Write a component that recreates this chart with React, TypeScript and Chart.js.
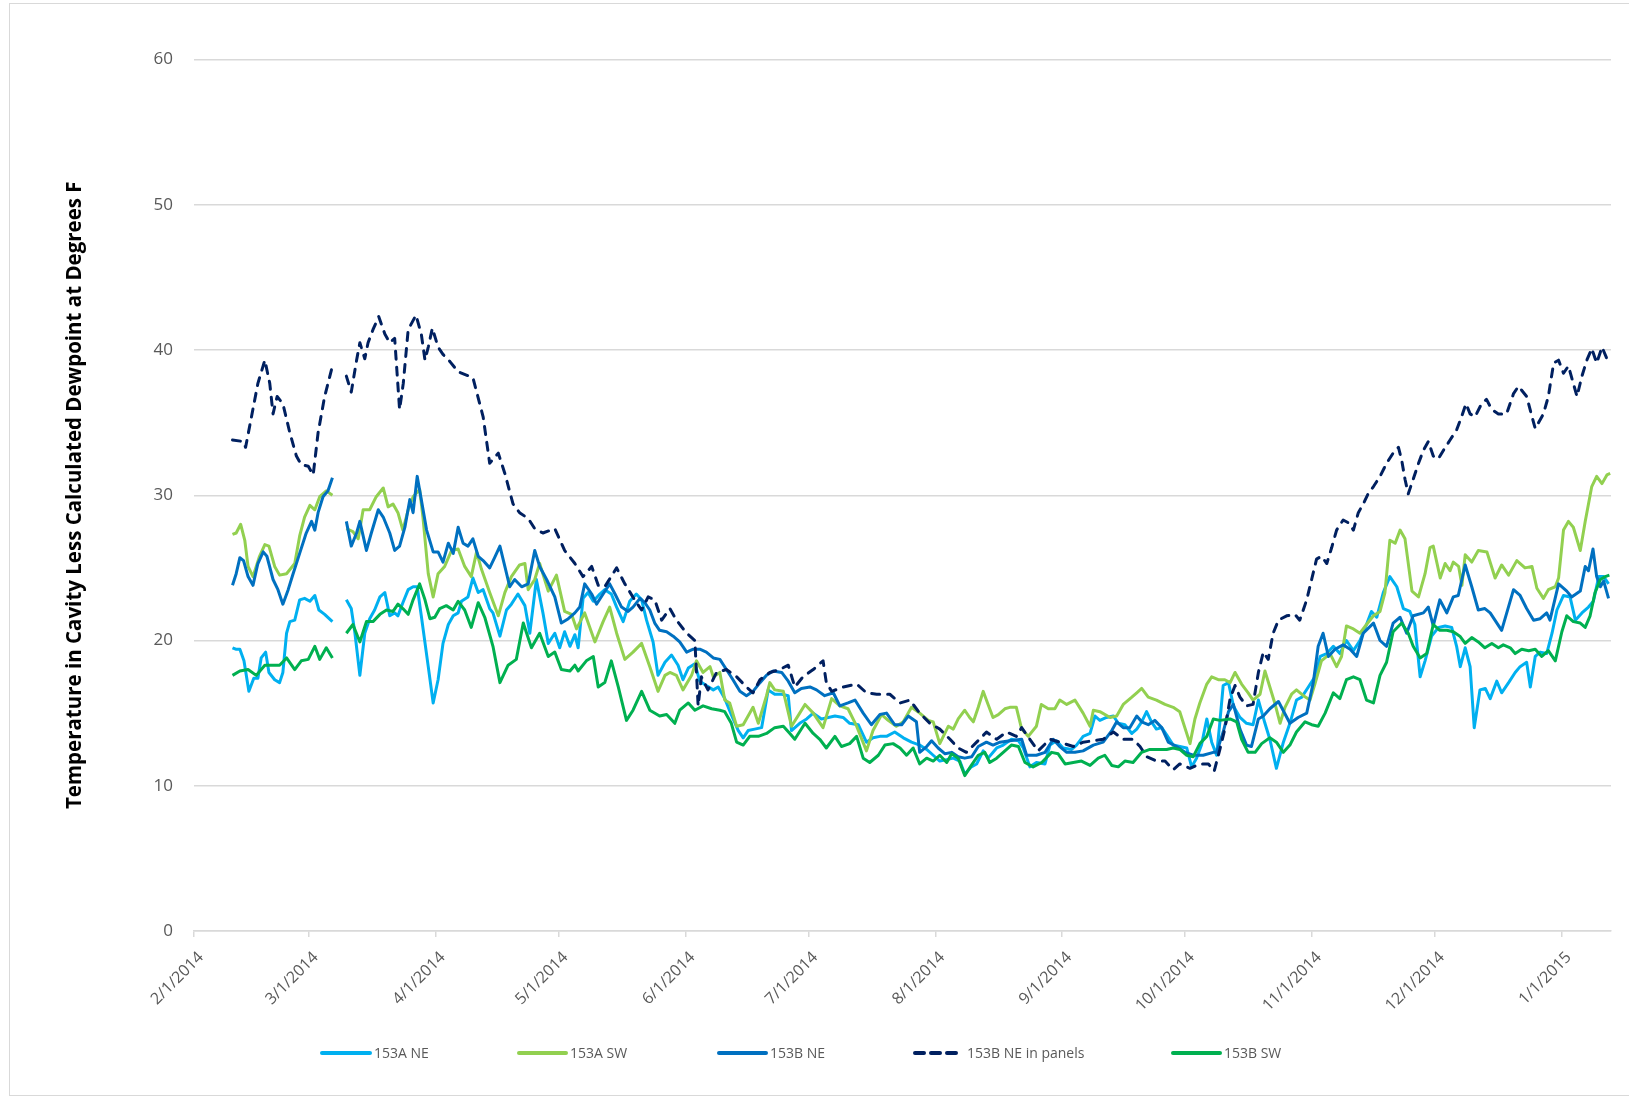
import React, { useEffect, useRef } from "react";
import { Chart, registerables } from "chart.js";

Chart.register(...registerables);

// x values are days since 2/1/2014
const MONTH_TICKS = [0, 28, 59, 89, 120, 150, 181, 212, 242, 273, 303, 334];
const MONTH_LABELS = ["2/1/2014", "3/1/2014", "4/1/2014", "5/1/2014", "6/1/2014", "7/1/2014", "8/1/2014", "9/1/2014", "10/1/2014", "11/1/2014", "12/1/2014", "1/1/2015"];
const X_MAX = 346;
const Y_TICKS = [0, 10, 20, 30, 40, 50, 60];

const SERIES_NAMES = ["153A NE", "153A SW", "153B NE", "153B NE in panels", "153B SW"];
const SERIES_COLORS = ["#00B0F0", "#92D050", "#0070C0", "#002060", "#00B050"];

type P = [number, number | null];

const A_NE: P[] = [[9.4,19.5],[10.2,19.4],[11.2,19.4],[12.2,18.6],[13.4,16.5],[14.6,17.4],[15.6,17.4],[16.4,18.8],[17.5,19.2],[18.3,17.8],[19.7,17.3],[20.9,17.1],[21.7,17.8],[22.6,20.5],[23.4,21.3],[24.6,21.4],[25.8,22.8],[27.0,22.9],[28.3,22.7],[29.5,23.1],[30.5,22.1],[31.9,21.8],[33.8,21.3],[35.5,null],[37.2,22.8],[38.4,22.2],[39.3,20.5],[40.5,17.6],[41.7,20.5],[42.9,21.5],[44.1,22.1],[45.4,23.0],[46.6,23.3],[47.8,21.7],[49.0,21.9],[49.8,21.7],[51.0,22.6],[52.3,23.5],[53.5,23.7],[54.5,23.7],[55.5,21.7],[57.2,18.2],[58.4,15.7],[59.6,17.3],[60.8,19.8],[62.1,21.1],[63.3,21.7],[64.5,21.9],[65.3,22.7],[66.9,23.0],[68.1,24.3],[69.4,23.3],[70.6,23.5],[72.2,22.2],[73.0,21.9],[74.7,20.3],[76.3,22.1],[77.5,22.5],[79.1,23.2],[80.8,22.4],[82.0,20.5],[83.6,24.2],[85.2,21.9],[86.5,19.8],[88.1,20.5],[89.3,19.5],[90.5,20.6],[91.8,19.6],[93.0,20.4],[93.8,19.5],[95.0,22.9],[96.2,23.3],[97.5,22.7],[99.1,23.2],[100.3,23.5],[101.9,23.2],[103.2,22.3],[104.8,21.3],[106.4,22.7],[108.0,23.2],[109.3,22.8],[110.5,21.4],[112.1,19.9],[113.3,17.6],[115.0,18.5],[116.6,19.0],[118.2,18.3],[119.4,17.3],[120.7,18.1],[122.3,18.4],[123.5,17.2],[125.1,16.9],[126.8,16.6],[128.0,16.8],[129.6,16.0],[131.2,14.9],[132.9,13.8],[134.1,13.3],[135.3,13.8],[136.9,13.9],[138.6,14.0],[140.2,16.6],[141.8,16.3],[143.5,16.3],[145.1,16.2],[145.9,13.8],[147.9,14.3],[149.6,14.6],[151.2,15.0],[153.2,14.6],[154.9,14.7],[156.5,14.8],[158.5,14.7],[160.1,14.3],[162.2,14.2],[164.2,13.0],[165.8,13.3],[167.5,13.4],[169.1,13.4],[171.1,13.7],[173.2,13.3],[175.2,13.0],[177.2,12.8],[178.9,12.5],[180.5,12.1],[182.1,11.7],[183.8,11.8],[185.4,11.9],[187.0,11.7],[188.2,10.8],[189.8,11.3],[191.1,11.5],[192.7,12.4],[193.9,11.9],[196.0,12.6],[197.6,12.8],[199.6,13.2],[201.3,13.1],[202.5,12.6],[204.1,11.3],[205.7,11.6],[207.8,11.5],[209.0,12.8],[210.6,13.1],[212.2,12.6],[214.3,12.5],[215.5,12.8],[217.1,13.4],[218.8,13.6],[220.0,14.8],[221.2,14.5],[222.8,14.7],[224.5,14.8],[225.7,14.3],[227.3,14.2],[229.0,13.6],[230.2,13.9],[231.4,14.4],[232.6,15.1],[233.8,14.4],[235.0,13.9],[236.3,14.0],[237.5,13.5],[239.1,12.8],[240.7,12.7],[242.4,12.6],[243.6,11.3],[244.8,11.9],[246.0,12.8],[247.3,14.6],[248.5,13.0],[249.7,12.1],[250.5,14.4],[251.3,16.9],[252.6,17.1],[253.8,15.5],[255.4,14.7],[257.0,14.3],[258.6,14.2],[259.9,15.9],[261.5,14.3],[262.7,13.2],[264.3,11.2],[266.0,13.0],[267.6,14.3],[269.2,15.9],[270.5,16.1],[272.1,16.8],[273.7,17.5],[275.0,18.9],[276.6,19.1],[278.2,19.6],[279.8,19.1],[281.4,20.0],[283.1,19.3],[284.7,20.0],[286.3,21.1],[287.5,22.0],[288.8,21.6],[290.4,23.3],[292.0,24.4],[293.7,23.7],[295.3,22.2],[296.9,22.0],[298.1,21.1],[299.4,17.5],[300.6,18.6],[302.2,20.3],[303.9,20.9],[305.5,21.0],[307.1,20.9],[308.3,19.6],[309.2,18.2],[310.4,19.5],[311.6,18.2],[312.6,14.0],[314.0,16.6],[315.3,16.7],[316.5,16.0],[318.1,17.2],[319.3,16.4],[321.0,17.1],[322.6,17.8],[323.8,18.2],[325.4,18.5],[326.3,16.8],[327.5,18.9],[328.7,19.2],[330.3,19.1],[331.6,20.5],[332.8,22.1],[334.4,23.1],[336.0,23.0],[337.3,21.4],[338.9,21.9],[340.5,22.3],[341.7,22.7],[343.0,24.4],[344.2,24.4],[345.4,23.9]];

const A_SW: P[] = [[9.4,27.3],[10.3,27.4],[11.4,28.0],[12.4,26.9],[13.2,25.1],[14.4,24.4],[16.0,25.8],[17.3,26.6],[18.3,26.5],[19.7,25.1],[20.9,24.5],[22.6,24.6],[24.6,25.3],[25.8,27.2],[27.0,28.5],[28.3,29.3],[29.5,29.0],[30.7,29.9],[32.3,30.3],[33.8,30.0],[35.5,null],[37.2,27.7],[38.8,27.5],[40.1,27.0],[41.3,29.0],[42.9,29.0],[44.5,29.9],[46.2,30.5],[47.4,29.2],[48.6,29.4],[49.8,28.8],[51.0,27.6],[52.3,29.0],[53.5,29.9],[55.1,30.4],[55.9,28.5],[57.2,24.6],[58.4,23.0],[59.6,24.6],[61.2,25.1],[62.9,26.2],[64.5,26.3],[66.1,25.1],[67.7,24.4],[69.0,26.1],[70.2,24.9],[72.2,23.3],[74.3,21.7],[75.9,23.3],[77.5,24.4],[79.5,25.2],[80.8,25.3],[81.6,23.5],[83.2,24.2],[84.4,25.3],[86.5,23.4],[88.5,24.5],[90.5,22.0],[92.2,21.8],[93.4,20.8],[95.4,21.9],[97.9,19.9],[99.9,21.3],[101.5,22.3],[103.2,20.5],[105.2,18.7],[107.2,19.2],[109.3,19.8],[111.3,18.2],[113.3,16.5],[115.0,17.6],[116.2,17.8],[117.8,17.6],[119.4,16.6],[121.5,17.6],[122.7,18.6],[124.3,17.8],[126.0,18.2],[126.8,17.5],[128.4,17.8],[129.6,15.9],[130.8,15.7],[132.5,14.1],[134.1,14.2],[136.5,15.4],[137.8,14.3],[139.8,16.2],[140.6,17.1],[141.8,16.6],[143.9,16.5],[145.9,14.1],[147.9,15.0],[149.2,15.6],[151.2,15.0],[153.6,14.0],[155.7,16.0],[157.7,15.5],[159.7,15.3],[161.8,14.1],[164.2,12.4],[165.8,13.8],[167.9,14.9],[169.5,14.5],[171.5,14.1],[173.2,14.4],[175.2,15.4],[177.2,15.0],[179.3,14.5],[180.5,14.4],[182.1,12.9],[184.2,14.1],[185.4,13.9],[186.6,14.6],[188.2,15.2],[189.4,14.7],[190.3,14.4],[191.5,15.4],[192.7,16.5],[193.9,15.6],[195.1,14.7],[196.4,14.9],[198.0,15.3],[199.2,15.4],[200.8,15.4],[202.1,13.9],[203.7,13.4],[205.7,14.1],[206.9,15.6],[208.6,15.3],[210.2,15.3],[211.4,15.9],[213.1,15.6],[215.1,15.9],[217.1,15.0],[218.8,14.1],[219.6,15.2],[221.2,15.1],[223.7,14.7],[225.3,14.8],[226.9,15.6],[229.0,16.1],[230.2,16.4],[231.4,16.7],[233.0,16.1],[235.0,15.9],[237.1,15.6],[239.1,15.4],[240.7,15.1],[243.2,12.9],[244.4,14.6],[245.6,15.7],[247.3,17.0],[248.5,17.5],[250.1,17.3],[251.7,17.3],[253.0,17.1],[254.2,17.8],[255.8,17.0],[257.4,16.4],[258.6,15.9],[260.3,16.3],[261.5,17.9],[262.7,16.8],[263.9,15.7],[265.2,14.3],[266.4,15.4],[268.0,16.3],[269.2,16.6],[270.9,16.2],[272.5,15.9],[273.7,17.0],[275.3,18.6],[277.4,19.1],[279.0,18.2],[280.2,18.9],[281.4,21.0],[283.1,20.8],[284.7,20.5],[286.3,21.1],[288.0,21.7],[289.6,22.0],[290.8,23.3],[292.0,26.9],[293.3,26.7],[294.5,27.6],[295.7,27.0],[297.4,23.4],[299.0,23.0],[300.6,24.6],[301.8,26.4],[302.6,26.5],[304.3,24.3],[305.5,25.3],[306.7,24.8],[307.5,25.4],[308.8,25.1],[309.6,23.8],[310.4,25.9],[312.0,25.4],[313.6,26.2],[315.7,26.1],[317.7,24.3],[319.3,25.2],[321.0,24.5],[323.0,25.5],[325.0,25.0],[326.7,25.1],[327.9,23.6],[329.5,22.9],[330.7,23.5],[332.4,23.7],[333.2,24.3],[334.4,27.6],[335.6,28.2],[336.8,27.8],[338.5,26.2],[339.7,28.2],[341.3,30.6],[342.5,31.3],[343.8,30.8],[345.0,31.4],[345.8,31.5]];

const B_NE: P[] = [[9.4,23.8],[10.3,24.6],[11.2,25.7],[12.1,25.5],[13.2,24.4],[14.4,23.8],[15.6,25.3],[16.9,26.1],[17.8,25.8],[19.3,24.2],[20.5,23.5],[21.7,22.5],[23.0,23.5],[24.2,24.6],[25.8,26.0],[27.4,27.4],[28.7,28.2],[29.5,27.6],[30.3,28.8],[31.5,29.9],[32.7,30.3],[33.8,31.2],[35.5,null],[37.2,28.2],[38.4,26.5],[39.7,27.4],[40.5,28.2],[42.1,26.2],[43.3,27.4],[45.0,29.0],[46.2,28.5],[47.8,27.4],[49.0,26.2],[50.2,26.5],[51.5,27.8],[52.7,29.7],[53.5,28.8],[54.5,31.3],[55.5,29.7],[56.8,27.6],[58.4,26.1],[59.6,26.1],[60.8,25.4],[62.1,26.7],[63.3,26.0],[64.5,27.8],[65.7,26.7],[66.9,26.5],[68.1,27.0],[69.4,25.8],[70.6,25.5],[72.2,25.0],[73.4,25.7],[74.7,26.5],[75.9,25.1],[77.1,23.7],[78.3,24.2],[80.0,23.7],[81.6,23.9],[83.2,26.2],[84.4,25.1],[86.1,24.2],[88.1,23.0],[89.7,21.2],[91.4,21.5],[93.0,21.9],[94.2,22.3],[95.4,23.9],[97.1,23.2],[98.3,22.5],[99.9,23.2],[101.5,23.9],[102.8,23.2],[104.4,22.3],[106.0,22.0],[107.2,22.3],[108.9,22.9],[110.1,22.6],[111.3,22.1],[112.5,21.2],[113.7,20.7],[115.4,20.6],[117.0,20.3],[118.6,19.9],[120.3,19.2],[121.9,19.4],[123.5,19.4],[125.1,19.2],[126.8,18.8],[128.4,18.7],[130.0,18.0],[131.6,17.3],[133.3,16.5],[134.9,16.2],[136.5,16.5],[138.2,17.1],[139.8,17.6],[141.4,17.9],[143.5,17.8],[145.1,17.2],[146.7,16.4],[148.3,16.7],[150.4,16.8],[152.0,16.6],[154.0,16.2],[156.1,16.4],[157.7,15.5],[159.7,15.7],[161.4,15.9],[163.4,15.0],[165.4,14.2],[167.5,14.9],[169.1,15.0],[171.1,14.2],[172.8,14.2],[174.4,14.8],[176.4,14.4],[177.2,12.3],[178.9,12.7],[180.1,13.1],[181.7,12.6],[183.4,12.2],[185.0,12.3],[186.6,12.0],[188.2,11.9],[189.9,12.0],[191.5,12.7],[193.5,13.0],[195.1,12.8],[196.8,13.0],[199.2,13.1],[202.1,13.2],[203.3,12.1],[205.7,12.1],[207.8,12.3],[209.8,13.2],[211.4,12.7],[213.1,12.3],[215.1,12.3],[217.1,12.4],[219.6,12.8],[222.0,13.0],[224.1,13.8],[225.3,14.4],[226.9,14.0],[228.5,14.0],[230.2,14.8],[231.4,14.4],[233.0,14.2],[234.6,14.5],[236.3,14.0],[237.9,13.0],[239.9,12.7],[242.0,12.3],[244.0,12.1],[246.4,12.1],[248.9,12.3],[249.7,12.3],[251.3,13.7],[252.6,15.1],[253.8,15.6],[255.4,13.9],[257.0,12.8],[258.2,12.7],[259.9,14.6],[261.1,14.8],[262.7,15.3],[264.8,15.8],[267.6,14.3],[269.6,14.7],[271.7,15.0],[273.3,17.1],[274.5,19.6],[275.7,20.5],[277.0,18.9],[278.6,19.4],[280.6,19.7],[282.3,19.4],[283.9,18.9],[285.5,20.5],[288.0,21.2],[289.6,20.0],[291.2,19.6],[292.8,21.2],[294.5,21.6],[296.1,20.5],[297.7,21.7],[300.2,21.9],[301.4,22.3],[302.6,21.0],[304.2,22.8],[305.9,21.9],[307.5,23.0],[308.7,23.1],[310.4,25.2],[312.0,23.7],[313.6,22.1],[315.2,22.2],[316.5,21.9],[319.3,20.7],[322.2,23.5],[323.8,23.1],[325.4,22.2],[327.1,21.4],[328.7,21.5],[330.3,21.9],[331.1,21.4],[333.2,23.9],[335.2,23.4],[336.4,23.0],[338.5,23.4],[339.7,25.1],[340.5,24.8],[341.6,26.3],[342.5,24.4],[343.4,23.7],[344.2,24.1],[345.4,22.9]];

const B_NE_PANELS: P[] = [[9.4,33.8],[12.0,33.7],[12.6,33.3],[15.6,37.7],[17.3,39.3],[18.5,37.7],[19.3,35.6],[20.3,36.8],[21.7,36.3],[23.4,34.3],[25.0,32.7],[26.2,32.1],[27.9,32.0],[29.1,31.4],[30.3,34.3],[31.9,36.8],[33.8,38.9],[35.5,null],[37.2,38.2],[38.4,37.1],[39.7,39.3],[40.5,40.5],[41.7,39.4],[42.5,40.5],[43.7,41.4],[45.1,42.3],[46.6,41.1],[47.8,40.5],[49.0,40.8],[50.2,35.9],[51.1,37.7],[52.3,41.4],[54.2,42.4],[55.5,41.1],[56.4,39.3],[57.2,40.2],[58.2,41.5],[59.6,40.2],[60.8,39.7],[62.5,39.2],[64.5,38.5],[68.1,38.1],[70.6,35.4],[72.2,32.2],[74.3,32.9],[75.9,31.5],[77.9,29.4],[79.5,28.8],[81.6,28.4],[83.2,27.7],[85.2,27.4],[88.1,27.7],[90.5,26.2],[93.0,25.3],[95.0,24.4],[97.1,25.1],[98.7,23.8],[100.3,23.7],[103.2,25.0],[105.2,23.9],[107.6,22.8],[109.3,22.1],[110.9,23.0],[112.5,22.8],[114.2,21.4],[116.2,22.2],[117.8,21.4],[120.3,20.5],[122.3,20.0],[123.1,15.5],[123.9,17.5],[125.5,16.6],[127.6,17.8],[130.0,18.0],[132.5,17.5],[134.9,16.8],[136.5,16.4],[138.2,17.3],[140.6,17.8],[143.0,18.0],[145.1,18.3],[146.7,16.8],[148.7,17.5],[151.2,18.0],[153.6,18.6],[154.4,17.1],[155.7,16.5],[158.5,16.8],[161.8,17.0],[164.2,16.4],[166.7,16.3],[169.9,16.3],[172.4,15.7],[174.8,15.9],[177.2,15.0],[179.7,14.3],[182.1,13.9],[184.6,13.2],[186.6,12.6],[188.6,12.3],[191.1,13.0],[193.5,13.7],[196.0,13.2],[198.4,13.7],[200.8,13.4],[202.1,14.0],[204.1,13.2],[206.1,12.4],[209.0,13.2],[211.4,13.0],[214.7,12.7],[217.1,13.0],[219.6,13.1],[222.0,13.2],[224.5,13.7],[226.9,13.2],[229.3,13.2],[231.0,12.7],[232.6,12.0],[235.0,11.7],[237.1,11.7],[239.1,11.1],[240.7,11.5],[243.2,11.2],[245.6,11.5],[247.7,11.5],[249.1,11.0],[250.5,12.5],[251.7,13.9],[253.0,16.0],[254.2,16.9],[255.4,16.1],[257.0,15.5],[258.6,15.6],[259.9,17.8],[261.1,19.2],[262.3,18.7],[263.5,20.5],[264.8,21.4],[266.8,21.7],[268.8,21.8],[270.0,21.4],[271.7,22.8],[272.9,24.2],[274.1,25.6],[275.3,25.8],[276.6,25.3],[277.8,26.4],[279.0,27.6],[280.6,28.3],[281.9,28.1],[283.1,27.6],[284.3,28.8],[285.5,29.4],[286.7,30.1],[288.0,30.6],[289.6,31.3],[291.2,32.2],[292.8,32.9],[294.1,33.3],[294.9,32.4],[295.7,31.1],[296.5,30.1],[297.7,31.1],[299.0,32.2],[300.2,33.1],[301.4,33.7],[302.6,32.7],[303.8,32.5],[305.1,33.1],[306.7,33.8],[308.3,34.5],[309.5,35.4],[310.6,36.3],[311.6,35.6],[312.8,35.4],[314.4,36.3],[315.6,36.6],[316.9,35.9],[318.5,35.6],[320.5,35.6],[322.2,37.0],[323.4,37.5],[325.4,36.8],[327.1,35.0],[327.5,34.6],[329.5,35.6],[330.7,36.8],[332.0,39.1],[333.2,39.3],[334.4,38.4],[335.6,38.9],[336.8,37.7],[337.7,36.8],[338.9,38.2],[340.1,39.3],[341.3,40.1],[342.5,39.1],[343.8,40.2],[345.0,39.4],[345.4,39.2]];

const B_SW: P[] = [[9.4,17.6],[11.2,17.9],[13.2,18.0],[15.2,17.6],[17.3,18.3],[19.3,18.3],[20.9,18.3],[22.6,18.8],[24.6,18.0],[26.2,18.6],[27.9,18.7],[29.5,19.6],[30.7,18.7],[32.3,19.5],[33.8,18.8],[35.5,null],[37.2,20.5],[38.8,21.1],[40.5,19.9],[42.1,21.3],[43.7,21.3],[45.4,21.8],[47.0,22.1],[48.6,22.0],[49.8,22.5],[51.0,22.2],[52.3,21.8],[53.5,22.8],[55.1,23.9],[56.4,22.8],[57.6,21.5],[58.8,21.6],[60.0,22.2],[61.6,22.4],[63.3,22.1],[64.5,22.7],[66.1,22.1],[67.7,20.9],[69.4,22.6],[71.0,21.6],[73.0,19.6],[74.7,17.1],[76.7,18.3],[78.7,18.7],[80.4,21.2],[82.4,19.5],[84.4,20.5],[86.5,18.9],[88.1,19.2],[89.7,18.0],[91.8,17.9],[93.0,18.3],[93.8,17.9],[95.8,18.6],[97.5,18.9],[98.7,16.8],[100.3,17.1],[101.9,18.6],[103.6,16.8],[105.6,14.5],[107.2,15.2],[109.3,16.5],[111.3,15.2],[113.7,14.8],[115.4,14.9],[117.4,14.3],[118.6,15.2],[120.7,15.7],[122.3,15.2],[124.3,15.5],[126.4,15.3],[128.4,15.2],[129.6,15.1],[131.2,14.3],[132.5,13.0],[134.1,12.8],[135.7,13.4],[137.8,13.4],[139.8,13.6],[141.8,14.0],[143.9,14.1],[145.5,13.6],[146.7,13.2],[149.2,14.3],[151.2,13.6],[152.8,13.2],[154.4,12.6],[156.5,13.4],[158.1,12.7],[160.1,12.9],[161.8,13.4],[163.4,11.9],[165.0,11.6],[167.1,12.1],[168.7,12.8],[170.7,12.9],[172.4,12.6],[174.0,12.1],[175.6,12.6],[177.2,11.5],[178.9,11.9],[180.5,11.7],[182.1,12.1],[183.8,11.6],[185.0,12.2],[186.6,11.9],[188.2,10.7],[189.8,11.4],[191.5,12.1],[193.1,12.3],[194.3,11.6],[196.0,11.9],[197.6,12.3],[199.6,12.8],[201.3,12.7],[202.9,11.6],[204.9,11.3],[207.0,11.6],[209.4,12.3],[211.0,12.2],[212.7,11.5],[214.7,11.6],[216.7,11.7],[218.8,11.4],[220.8,11.9],[222.4,12.1],[224.1,11.4],[225.7,11.3],[227.3,11.7],[229.3,11.6],[231.4,12.3],[233.4,12.5],[235.5,12.5],[237.5,12.5],[239.1,12.6],[240.7,12.5],[242.4,12.1],[244.0,12.0],[245.6,12.9],[247.3,13.4],[248.9,14.6],[250.5,14.5],[253.0,14.6],[254.6,14.4],[255.8,13.2],[257.4,12.3],[259.1,12.3],[260.7,12.9],[262.7,13.3],[264.3,13.0],[266.0,12.3],[267.6,12.8],[269.2,13.7],[271.3,14.4],[272.9,14.2],[274.5,14.1],[276.2,15.0],[278.2,16.4],[279.8,16.0],[281.4,17.3],[283.1,17.5],[284.7,17.3],[286.3,15.9],[288.0,15.7],[289.6,17.6],[291.2,18.5],[292.8,20.6],[294.9,21.2],[296.5,20.5],[297.7,19.6],[299.4,18.8],[301.0,19.1],[302.6,21.1],[304.2,20.7],[305.9,20.7],[307.5,20.6],[309.1,20.3],[310.4,19.8],[312.0,20.2],[313.6,19.9],[315.2,19.5],[316.9,19.8],[318.5,19.5],[319.7,19.7],[321.4,19.5],[322.6,19.1],[324.2,19.4],[325.9,19.3],[327.5,19.4],[329.1,18.9],[330.7,19.3],[332.4,18.6],[334.0,20.6],[335.2,21.7],[336.8,21.3],[338.5,21.2],[339.7,20.9],[340.9,21.7],[342.1,23.3],[343.4,24.2],[344.6,24.4],[345.6,24.5]];

const SERIES_DATA: P[][] = [A_NE, A_SW, B_NE, B_NE_PANELS, B_SW];

const Y_TITLE = "Temperature in Cavity Less Calculated Dewpoint at Degrees F";

const W = 1629;
const H = 1099;

const LEGEND_POS = [
  { x1: 322, x2: 370, tx: 374 },
  { x1: 519, x2: 566, tx: 570 },
  { x1: 719, x2: 766, tx: 770 },
  { x1: 915, x2: 961, tx: 967 },
  { x1: 1173, x2: 1220, tx: 1224 },
];
const LEGEND_Y = 1053;

export default function App() {
  const canvasRef = useRef<HTMLCanvasElement | null>(null);

  useEffect(() => {
    const canvas = canvasRef.current;
    if (!canvas) return;
    const chart = new Chart(canvas, {
      type: "line",
      data: {
        datasets: SERIES_NAMES.map((name, i) => ({
          label: name,
          data: SERIES_DATA[i].map(([x, y]) => ({ x, y })),
          borderColor: SERIES_COLORS[i],
          backgroundColor: SERIES_COLORS[i],
          borderWidth: 3,
          pointRadius: 0,
          pointHoverRadius: 0,
          tension: 0,
          spanGaps: false,
          fill: false,
          borderDash: i === 3 ? [8, 8] : [],
          borderCapStyle: i === 3 ? "round" : "butt",
          borderJoinStyle: "round",
          order: SERIES_NAMES.length - i,
        })) as any,
      },
      options: {
        responsive: false,
        animation: false,
        devicePixelRatio: 1,
        parsing: false as any,
        normalized: true,
        layout: { padding: { top: 59.5, right: 18, bottom: 0, left: 0 } },
        plugins: {
          legend: { display: false },
          tooltip: { enabled: false },
        },
        events: [],
        scales: {
          x: {
            type: "linear",
            min: 0,
            max: X_MAX,
            afterBuildTicks: (scale: any) => {
              scale.ticks = MONTH_TICKS.map((v) => ({ value: v }));
            },
            afterFit: (scale: any) => {
              scale.height = H - 931;
            },
            ticks: {
              autoSkip: false,
              minRotation: 45,
              maxRotation: 45,
              padding: 11,
              labelOffset: 7,
              color: "#595959",
              font: { family: "'Open Sans'", size: 16 },
              callback: (value: any) => {
                const idx = MONTH_TICKS.indexOf(Number(value));
                return idx >= 0 ? MONTH_LABELS[idx] : "";
              },
            },
            grid: {
              drawOnChartArea: false,
              drawTicks: true,
              tickLength: 6,
              color: "#d9d9d9",
              lineWidth: 1.5,
            },
            border: { display: true, color: "#d9d9d9", width: 1.5 },
          },
          y: {
            type: "linear",
            min: 0,
            max: 60,
            afterBuildTicks: (scale: any) => {
              scale.ticks = Y_TICKS.map((v) => ({ value: v }));
            },
            afterFit: (scale: any) => {
              scale.width = 194;
            },
            ticks: {
              padding: 21,
              color: "#595959",
              font: { family: "'Open Sans'", size: 17 },
            },
            grid: {
              color: "#d9d9d9",
              lineWidth: 1.5,
              drawTicks: false,
            },
            border: { display: false },
            title: {
              display: true,
              text: Y_TITLE,
              color: "#000000",
              font: { family: "'Open Sans'", size: 20.5, weight: "bold" },
              padding: { top: 62.5, bottom: 0 },
            },
          },
        },
      } as any,
    });
    return () => chart.destroy();
  }, []);

  return (
    <div style={{ position: "absolute", left: 0, top: 0, width: W, height: H, overflow: "hidden", background: "#ffffff" }}>
      <div style={{ position: "absolute", left: 9, top: 3, width: W + 40, height: H - 6, border: "1px solid #d9d9d9", boxSizing: "border-box" }} />
      <canvas ref={canvasRef} width={W} height={H} style={{ position: "absolute", left: 0, top: 0, width: W, height: H }} />
      {SERIES_NAMES.map((name, i) => {
        const p = LEGEND_POS[i];
        const dashed = i === 3;
        return (
          <div key={name}>
            <svg style={{ position: "absolute", left: p.x1 - 2, top: LEGEND_Y - 4, overflow: "visible" }} width={p.x2 - p.x1 + 4} height={8}>
              <line
                x1={2}
                y1={4}
                x2={p.x2 - p.x1 + 2}
                y2={4}
                stroke={SERIES_COLORS[i]}
                strokeWidth={4}
                strokeLinecap="round"
                strokeDasharray={dashed ? "9 7" : undefined}
              />
            </svg>
            <div
              style={{
                position: "absolute",
                left: p.tx,
                top: LEGEND_Y - 10,
                height: 20,
                lineHeight: "20px",
                fontFamily: "'Open Sans', sans-serif",
                fontSize: 14,
                color: "#595959",
                whiteSpace: "nowrap",
              }}
            >
              {name}
            </div>
          </div>
        );
      })}
    </div>
  );
}
